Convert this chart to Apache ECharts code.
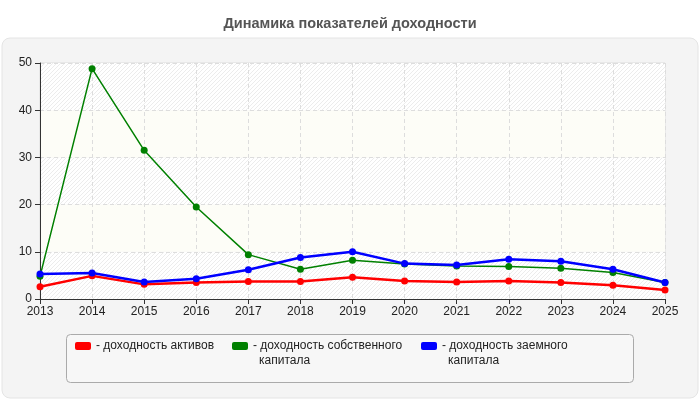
<!DOCTYPE html>
<html>
<head>
<meta charset="utf-8">
<script src="https://cdn.jsdelivr.net/npm/echarts@6/dist/echarts.min.js"></script>
<style>
  html, body { margin: 0; padding: 0; background: #fff; }
  #chart { width: 700px; height: 400px; }
</style>
</head>
<body>
<div id="chart"></div>
<script>
// данные
const years = ['2013', '2014', '2015', '2016', '2017', '2018', '2019', '2020', '2021', '2022', '2023', '2024', '2025']
const assetsReturn = [2.6, 4.9, 3.1, 3.5, 3.7, 3.7, 4.6, 3.8, 3.6, 3.8, 3.5, 2.9, 1.9]
const equityReturn = [4.8, 48.8, 31.5, 19.5, 9.4, 6.3, 8.2, 7.4, 7.0, 6.9, 6.5, 5.6, 3.5]
const debtReturn = [5.3, 5.5, 3.6, 4.3, 6.2, 8.8, 10.0, 7.5, 7.2, 8.4, 8.0, 6.3, 3.5]
const seriesNames = ['- доходность активов', '- доходность собственного\nкапитала', '- доходность заемного\nкапитала']
const seriesColors = ['#ff0000', '#008000', '#0000ff']

const chart = echarts.init(document.getElementById('chart'))

const font = 'Liberation Sans, Arial, sans-serif'

// штриховка для полос фона
const hatch = document.createElement('canvas')
hatch.width = 4
hatch.height = 4
const hctx = hatch.getContext('2d')
hctx.fillStyle = '#ffffff'
hctx.fillRect(0, 0, 4, 4)
hctx.strokeStyle = '#ececec'
hctx.lineWidth = 1
hctx.beginPath()
hctx.moveTo(-1, 5); hctx.lineTo(5, -1)
hctx.moveTo(-1, 1); hctx.lineTo(1, -1)
hctx.moveTo(3, 5); hctx.lineTo(5, 3)
hctx.stroke()

// легенда: три отдельных блока; вторая строка подписи — отдельным текстом,
// потому что легенда центрует значок по всему блоку текста
const legendLeft = [75, 232, 421]
const legends = seriesNames.map((name, i) => ({
  data: [name],
  left: legendLeft[i],
  top: 340,
  padding: 0,
  itemWidth: 16,
  itemHeight: 8,
  icon: 'roundRect',
  formatter: n => n.split('\n')[0],
  textStyle: { fontFamily: font, fontSize: 12, color: '#222' }
}))
const legendSecondLines = seriesNames
  .map((name, i) => ({ parts: name.split('\n'), i }))
  .filter(d => d.parts.length > 1)
  .map(d => ({
    type: 'text',
    left: legendLeft[d.i] + 27,
    top: 355,
    style: { text: d.parts[1], fontFamily: font, fontSize: 12, fill: '#222' }
  }))

const makeSeries = (name, data, color, width) => ({
  name: name,
  type: 'line',
  data: data,
  symbol: 'circle',
  symbolSize: 7,
  itemStyle: { color: color },
  lineStyle: { color: color, width: width },
  emphasis: { disabled: true }
})

chart.setOption({
  animation: false,
  title: {
    text: 'Динамика показателей доходности',
    left: 'center',
    top: 11,
    textStyle: { fontFamily: font, fontSize: 14.5, fontWeight: 'bold', color: '#555' }
  },
  graphic: [
    {
      type: 'rect',
      z: -10,
      shape: { x: 2, y: 38, width: 696, height: 360, r: 8 },
      style: { fill: '#f4f4f4', stroke: '#e4e4e4', lineWidth: 1 }
    },
    {
      type: 'rect',
      z: -5,
      shape: { x: 66.5, y: 334.5, width: 567, height: 48, r: 4 },
      style: { fill: '#f7f7f7', stroke: '#aaa', lineWidth: 1 }
    }
  ].concat(legendSecondLines),
  legend: legends,
  grid: {
    left: 40,
    right: 35,
    top: 63,
    bottom: 101,
    show: true,
    borderColor: '#ddd',
    backgroundColor: 'transparent'
  },
  xAxis: {
    type: 'category',
    data: years,
    boundaryGap: false,
    axisLine: { lineStyle: { color: '#333' } },
    axisTick: { alignWithLabel: true, lineStyle: { color: '#333' }, length: 5 },
    axisLabel: { fontFamily: font, fontSize: 12, color: '#222', margin: 7 },
    splitLine: { show: true, lineStyle: { color: '#ddd', type: [4, 3] } }
  },
  yAxis: {
    type: 'value',
    min: 0,
    max: 50,
    interval: 10,
    axisLine: { show: true, lineStyle: { color: '#333' } },
    axisTick: { show: true, lineStyle: { color: '#333' }, length: 5 },
    axisLabel: { fontFamily: font, fontSize: 12, color: '#222', margin: 8 },
    splitLine: { show: true, lineStyle: { color: '#ddd', type: [4, 3] } },
    splitArea: {
      show: true,
      areaStyle: { color: [{ image: hatch, repeat: 'repeat' }, '#fdfdf7'] }
    }
  },
  series: [
    makeSeries(seriesNames[0], assetsReturn, seriesColors[0], 2.5),
    makeSeries(seriesNames[1], equityReturn, seriesColors[1], 1.5),
    makeSeries(seriesNames[2], debtReturn, seriesColors[2], 2.5)
  ]
})
</script>
</body>
</html>
